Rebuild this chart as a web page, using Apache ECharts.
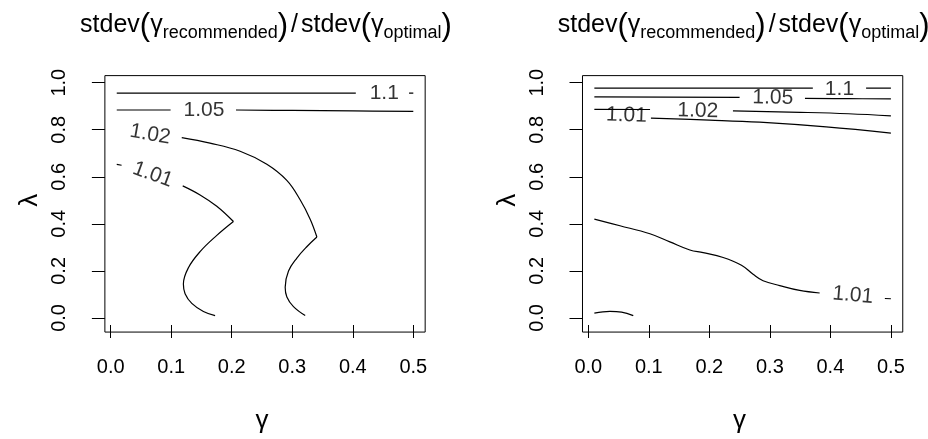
<!DOCTYPE html>
<html>
<head>
<meta charset="utf-8">
<script src="https://cdn.jsdelivr.net/npm/echarts@6/dist/echarts.min.js"></script>
<style>html,body{margin:0;padding:0;background:#fff;}#c{width:928px;height:439px;}</style>
</head>
<body>
<div id="c"></div>
<script>
// ---------- data ----------
const xTickLabels = ['0.0', '0.1', '0.2', '0.3', '0.4', '0.5'];
const yTickLabels = ['0.0', '0.2', '0.4', '0.6', '0.8', '1.0'];
const titleMain = 'stdev';
const titleSub1 = 'recommended';
const titleSub2 = 'optimal';
const xName = 'γ';
const yName = 'λ';

// Left panel contours: each is a list of segments of [gamma, lambda]
const left_1_10 = [[[0.01, 0.956], [0.405, 0.956]], [[0.493, 0.956], [0.5, 0.956]]];
const left_1_05 = [[[0.01, 0.884], [0.099, 0.884]], [[0.207, 0.884], [0.30, 0.882], [0.40, 0.880], [0.5, 0.878]]];
const left_1_02 = [
  [[0.1174, 0.7663], [0.1642, 0.7429], [0.2139, 0.7086], [0.258, 0.6533], [0.291, 0.5847], [0.313, 0.5022], [0.3296, 0.4197], [0.3407, 0.3439]],
  [[0.3407, 0.3439], [0.324, 0.3026], [0.3076, 0.2545], [0.2938, 0.1994], [0.2883, 0.1307], [0.2911, 0.0894], [0.302, 0.0481], [0.3214, 0.01]]
];
const left_1_01 = [
  [[0.01, 0.653], [0.018, 0.649]],
  [[0.119, 0.5613], [0.1477, 0.5228], [0.1753, 0.4746], [0.2028, 0.4098]],
  [[0.2028, 0.4098], [0.1753, 0.3508], [0.1477, 0.2819], [0.1284, 0.2134], [0.1201, 0.1444], [0.1229, 0.1032], [0.134, 0.0619], [0.1532, 0.0275], [0.1725, 0.01]]
];
const leftLabelText = ['1.1', '1.05', '1.02', '1.01'];
const leftLabelPos = [[0.452, 0.956], [0.154, 0.885], [0.065, 0.780], [0.0695, 0.609]];
const leftLabelAngle = [0, 0, -10, -20];

// Right panel contours
const right_1_10 = [[[0.01, 0.977], [0.371, 0.977]], [[0.459, 0.977], [0.5, 0.977]]];
const right_1_05 = [[[0.01, 0.940], [0.25, 0.938]], [[0.358, 0.933], [0.43, 0.932], [0.5, 0.931]]];
const right_1_02 = [[[0.01, 0.887], [0.102, 0.886]], [[0.239, 0.880], [0.35, 0.874], [0.43, 0.868], [0.5, 0.859]]];
const right_1_01_top = [[[0.1035, 0.849], [0.20, 0.841], [0.283, 0.832], [0.393, 0.812], [0.5, 0.786]]];
const right_1_01_mid = [[[0.01, 0.4197], [0.0523, 0.392], [0.1018, 0.3577], [0.1348, 0.3233], [0.1678, 0.2889], [0.1898, 0.2778], [0.2228, 0.2571], [0.2531, 0.2241], [0.2723, 0.1857], [0.2888, 0.1582], [0.3163, 0.1376], [0.3493, 0.1168], [0.3823, 0.106]], [[0.49, 0.0825], [0.5, 0.0815]]];
const right_1_01_low = [[[0.01, 0.0206], [0.0358, 0.0275], [0.055, 0.0248], [0.0743, 0.01]]];
const rightLabelText = ['1.1', '1.05', '1.02', '1.01', '1.01'];
const rightLabelPos = [[0.415, 0.974], [0.305, 0.936], [0.181, 0.880], [0.063, 0.861], [0.437, 0.096]];
const rightLabelAngle = [0, -1, -1, -2, -5];

// ---------- layout ----------
const FONT = '"Liberation Sans", Arial, Helvetica, sans-serif';
const X0 = 0, X1 = 0.5, Y0 = 0, Y1 = 1;
const XR = [0.01, 0.5], YR = [0.01, 0.99];            // data range, R adds 4%
const boxX = [XR[0] - 0.04 * (XR[1] - XR[0]), XR[1] + 0.04 * (XR[1] - XR[0])];
const boxY = [YR[0] - 0.04 * (YR[1] - YR[0]), YR[1] + 0.04 * (YR[1] - YR[0])];
const dataW = 302.6, dataH = 242.3, dataTop = 82.7;
const panelLeft = [110.7, 588.3];
const pxX = dataW / (X1 - X0), pxY = dataH / (Y1 - Y0);

const grids = [], xAxes = [], yAxes = [], series = [], titles = [];

function addPanel(p, contours, labText, labPos, labAngle) {
  const L = panelLeft[p];
  const bl = L + (boxX[0] - X0) * pxX;
  const bw = (boxX[1] - boxX[0]) * pxX;
  const bt = dataTop - (boxY[1] - Y1) * pxY;
  const bh = (boxY[1] - boxY[0]) * pxY;
  const gi = grids.length;
  grids.push({ left: bl, top: bt, width: bw, height: bh, show: true, borderColor: '#000', borderWidth: 1, backgroundColor: 'transparent' });
  grids.push({ left: L, top: dataTop, width: dataW, height: dataH, show: false });
  const offX = (Y0 - boxY[0]) * pxY;
  const offY = (X0 - boxX[0]) * pxX;
  xAxes.push({ gridIndex: gi, type: 'value', min: boxX[0], max: boxX[1], show: false });
  yAxes.push({ gridIndex: gi, type: 'value', min: boxY[0], max: boxY[1], show: false });
  xAxes.push({
    gridIndex: gi + 1, type: 'value', min: X0, max: X1, interval: 0.1, position: 'bottom', offset: offX,
    axisLine: { show: false, onZero: false }, splitLine: { show: false },
    axisTick: { show: true, length: 13, lineStyle: { color: '#000', width: 1 } },
    axisLabel: { color: '#000', fontSize: 20, fontFamily: FONT, margin: 32,
      formatter: v => xTickLabels[Math.round(v * 10)] },
    name: xName, nameLocation: 'middle', nameGap: 83,
    nameTextStyle: { color: '#000', fontSize: 26, fontFamily: FONT }
  });
  yAxes.push({
    gridIndex: gi + 1, type: 'value', min: Y0, max: Y1, interval: 0.2, position: 'left', offset: offY,
    axisLine: { show: false, onZero: false }, splitLine: { show: false },
    axisTick: { show: true, length: 13, lineStyle: { color: '#000', width: 1 } },
    axisLabel: { color: '#000', fontSize: 20, fontFamily: FONT, margin: 35, rotate: 90,
      formatter: v => yTickLabels[Math.round(v * 5)] },
    name: yName, nameLocation: 'middle', nameGap: 62,
    nameTextStyle: { color: '#000', fontSize: 26, fontFamily: FONT }
  });
  contours.forEach(c => c.forEach(seg => {
    series.push({
      type: 'line', xAxisIndex: gi + 1, yAxisIndex: gi + 1, silent: true, animation: false,
      showSymbol: false, symbol: 'none', smooth: 0.4,
      lineStyle: { color: '#000', width: 1.2 },
      data: seg
    });
  }));
  series.push({
    type: 'scatter', xAxisIndex: gi + 1, yAxisIndex: gi + 1, silent: true, animation: false,
    symbolSize: 1, itemStyle: { color: 'rgba(0,0,0,0)' },
    data: labText.map((t, i) => ({ name: t, value: labPos[i], label: { rotate: labAngle[i] } })),
    label: { show: true, position: 'inside', formatter: d => d.name, color: '#000', fontSize: 21, fontFamily: FONT }
  });
  const base = { fontFamily: FONT, color: '#000', fontWeight: 'normal', verticalAlign: 'bottom' };
  titles.push({
    left: bl + bw / 2 - 4, top: 6, textAlign: 'center',
    text: '{m|' + titleMain + '}{p|(}{g|γ}{s|' + titleSub1 + '}{p|)}{d|/}{m|' + titleMain + '}{p|(}{g|γ}{s|' + titleSub2 + '}{p|)}',
    textStyle: {
      fontWeight: 'normal', fontFamily: FONT, color: '#000',
      rich: {
        m: Object.assign({ fontSize: 25, lineHeight: 25, padding: [0, 0, 4, 0] }, base),
        g: Object.assign({ fontSize: 25, lineHeight: 25, padding: [0, 0, 4, 0] }, base),
        d: Object.assign({ fontSize: 25, lineHeight: 25, padding: [0, 3, 4, 3] }, base),
        s: Object.assign({ fontSize: 18, lineHeight: 18, padding: [0, 0, 0, 0] }, base),
        p: Object.assign({ fontSize: 31, lineHeight: 31, padding: [0, 0, 0, 0] }, base)
      }
    }
  });
}

addPanel(0, [left_1_10, left_1_05, left_1_02, left_1_01], leftLabelText, leftLabelPos, leftLabelAngle);
addPanel(1, [right_1_10, right_1_05, right_1_02, right_1_01_top, right_1_01_mid, right_1_01_low], rightLabelText, rightLabelPos, rightLabelAngle);

const chart = echarts.init(document.getElementById('c'), null, { renderer: 'canvas' });
chart.setOption({
  animation: false,
  backgroundColor: '#fff',
  title: titles,
  grid: grids,
  xAxis: xAxes,
  yAxis: yAxes,
  series: series
});
</script>
</body>
</html>
